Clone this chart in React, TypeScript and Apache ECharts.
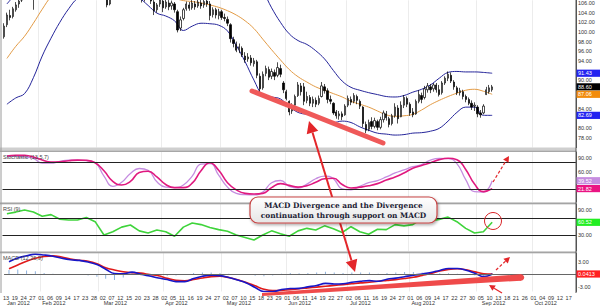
import React, { useEffect, useRef } from "react";
import * as echarts from "echarts";

// ---------- calendar ----------
const FIRST_DAY = "2012-01-13";
const LAST_DAY = "2012-10-19";
const MARKET_HOLIDAYS = ["2012-01-16", "2012-02-20", "2012-04-06", "2012-05-28", "2012-07-04", "2012-09-03"];
const MONTH_NAMES = ["Jan", "Feb", "Mar", "Apr", "May", "Jun", "Jul", "Aug", "Sep", "Oct", "Nov", "Dec"];

// ---------- price candles: [open, close, low, high] ----------
const candles: number[][] = [
  [99.0, 101.2, 98.6, 101.8], [101.5, 103.5, 101.0, 104.0], [103.4, 103.0, 102.4, 104.6], [103.2, 104.8, 102.8, 105.2], [104.6, 105.6, 104.2, 106.2],
  [105.8, 106.4, 105.0, 107.0], [106.6, 107.8, 106.2, 108.5], [107.8, 108.6, 107.2, 109.0], [108.6, 109.2, 108.0, 109.8], [109.0, 108.4, 107.6, 109.5],
  [108.2, 107.4, 104.6, 108.6], [107.6, 108.8, 107.0, 109.2], [108.8, 109.6, 108.2, 110.0], [109.6, 110.4, 109.0, 110.9], [110.4, 110.0, 109.4, 111.0],
  [110.0, 111.0, 109.6, 111.4], [111.0, 111.6, 110.4, 112.0], [111.6, 111.2, 110.6, 112.2], [111.2, 110.6, 110.0, 111.8], [110.6, 111.4, 110.0, 111.8],
  [111.4, 112.0, 110.8, 112.6], [112.0, 111.6, 111.0, 112.4], [111.6, 112.4, 111.2, 112.8], [112.4, 112.9, 111.8, 113.4], [112.9, 112.4, 111.8, 113.2],
  [112.4, 111.8, 111.2, 112.8], [111.8, 112.2, 111.2, 112.6], [112.2, 111.4, 110.8, 112.6], [111.4, 111.8, 110.8, 112.2], [111.8, 111.0, 110.4, 112.0],
  [111.0, 110.4, 109.8, 111.4], [110.4, 109.6, 109.0, 110.8], [109.6, 108.8, 108.2, 110.0], [108.8, 108.0, 107.4, 109.2], [108.0, 107.4, 106.8, 108.4],
  [107.4, 105.6, 105.1, 107.8], [105.8, 107.2, 105.5, 107.6], [107.2, 108.2, 106.8, 108.6], [108.2, 108.8, 107.8, 109.4], [108.8, 109.6, 108.4, 110.0],
  [109.6, 110.4, 109.2, 110.8], [110.4, 110.0, 109.4, 110.8], [110.0, 110.8, 109.6, 111.2], [110.8, 111.4, 110.4, 111.8], [111.4, 110.8, 110.2, 111.8],
  [110.8, 109.6, 109.0, 111.0], [109.6, 108.4, 107.8, 109.8], [108.0, 107.0, 106.1, 108.4], [107.0, 106.8, 106.3, 107.9], [107.0, 107.8, 106.6, 108.3],
  [107.6, 106.4, 105.8, 107.9], [106.2, 104.4, 103.5, 106.6], [104.6, 105.6, 104.0, 106.0], [105.8, 106.6, 105.2, 107.2], [106.4, 105.0, 104.1, 106.8],
  [105.2, 106.2, 104.8, 106.9], [106.0, 105.2, 104.5, 106.6], [105.4, 106.0, 104.6, 106.5], [105.8, 104.6, 104.0, 106.2], [104.2, 100.4, 99.9, 104.6],
  [100.8, 102.5, 100.2, 103.2], [102.8, 104.6, 102.4, 105.0], [104.8, 105.8, 104.4, 106.3], [105.6, 104.9, 104.4, 106.2], [105.0, 106.0, 104.6, 106.6],
  [105.8, 105.2, 104.6, 106.4], [105.4, 106.2, 105.0, 106.8], [106.0, 105.4, 104.8, 106.6], [105.6, 106.3, 105.0, 107.0], [106.4, 105.8, 105.2, 107.2],
  [105.8, 103.4, 102.4, 106.4], [103.6, 104.6, 103.0, 105.1], [104.6, 103.5, 102.8, 105.0], [103.4, 104.2, 102.6, 104.8], [104.2, 103.0, 102.5, 104.6],
  [103.0, 102.8, 102.2, 103.8], [102.6, 101.8, 101.2, 103.2], [101.5, 98.6, 97.8, 101.8], [98.4, 97.6, 96.8, 99.0], [97.4, 96.2, 95.8, 98.0],
  [96.4, 96.9, 95.6, 97.6], [96.6, 95.2, 94.8, 97.0], [95.0, 94.2, 93.6, 95.8], [94.4, 94.8, 93.8, 95.6], [94.6, 93.6, 93.0, 95.2],
  [93.4, 94.0, 92.8, 94.6], [93.8, 91.0, 90.4, 94.2], [90.8, 88.2, 87.4, 91.4], [88.4, 91.2, 88.0, 91.8], [91.4, 92.4, 90.8, 93.0],
  [92.2, 90.6, 90.0, 92.8], [90.8, 91.8, 90.2, 92.4], [91.6, 90.8, 90.0, 92.2], [91.0, 92.6, 90.6, 93.7], [92.4, 91.2, 90.6, 93.2],
  [89.4, 88.0, 87.3, 89.8], [87.6, 86.2, 85.8, 88.0], [85.6, 83.4, 82.7, 85.8], [83.6, 84.6, 83.0, 85.2], [84.8, 86.6, 84.4, 87.0],
  [86.8, 89.0, 86.5, 89.6], [88.8, 87.6, 86.8, 89.4], [88.6, 85.6, 84.8, 89.4], [85.8, 86.6, 85.2, 87.6], [86.4, 85.2, 84.6, 86.9],
  [85.2, 86.0, 84.4, 86.6], [85.8, 85.0, 84.4, 86.4], [85.2, 86.2, 84.8, 86.8], [86.6, 88.8, 86.4, 89.6], [88.6, 87.8, 87.2, 89.2],
  [87.8, 86.0, 85.2, 88.3], [86.0, 85.6, 85.0, 86.8], [85.2, 83.2, 82.8, 85.4], [83.4, 82.6, 82.0, 83.8], [82.6, 83.0, 81.8, 83.6],
  [83.0, 82.4, 81.7, 83.5], [82.8, 84.6, 82.6, 85.0], [84.8, 86.2, 84.4, 86.8], [86.0, 85.4, 84.8, 86.6], [85.6, 86.8, 85.2, 87.3],
  [86.6, 85.8, 85.0, 87.0], [85.6, 84.6, 84.0, 86.0], [84.4, 81.0, 80.2, 84.6], [80.8, 79.6, 79.0, 81.4], [79.8, 81.2, 79.4, 81.8],
  [81.4, 80.4, 79.8, 82.3], [80.4, 81.6, 80.0, 82.2], [81.4, 80.2, 79.6, 81.8], [80.2, 81.8, 79.8, 82.4], [81.8, 83.2, 81.2, 83.7],
  [83.0, 82.2, 81.6, 83.6], [82.0, 80.8, 80.2, 82.4], [81.0, 82.6, 80.6, 83.0], [82.6, 84.4, 82.2, 85.2], [84.2, 82.0, 81.0, 84.8],
  [82.4, 84.8, 82.3, 85.6], [84.8, 86.4, 84.2, 86.9], [86.2, 85.0, 84.4, 86.6], [85.0, 83.2, 82.6, 85.4], [83.4, 82.8, 82.3, 84.2],
  [83.0, 85.6, 82.8, 86.0], [85.6, 87.0, 85.2, 87.9], [86.8, 86.0, 85.2, 87.4], [86.4, 88.2, 86.0, 88.8], [88.0, 88.8, 87.4, 89.4],
  [88.6, 88.0, 87.3, 89.2], [88.2, 89.0, 87.6, 89.4], [89.0, 88.0, 87.4, 89.4], [88.0, 87.0, 86.6, 89.0], [87.4, 89.4, 87.0, 89.8],
  [89.4, 90.4, 89.0, 90.8], [90.4, 91.2, 89.8, 91.8], [91.0, 89.8, 89.4, 91.6], [89.6, 88.6, 88.0, 90.0], [88.4, 87.4, 86.9, 88.8],
  [87.4, 87.8, 86.8, 88.4], [87.6, 86.6, 86.0, 88.0], [86.6, 86.0, 85.4, 87.0], [86.0, 85.2, 84.8, 86.4], [85.2, 84.4, 83.8, 85.8],
  [84.6, 84.8, 83.6, 85.4], [84.4, 83.0, 82.3, 84.8], [83.2, 82.8, 82.2, 83.8], [83.2, 84.6, 82.9, 85.0], [87.0, 88.0, 86.9, 88.6],
  [87.6, 88.4, 87.2, 89.0], [88.0, 88.6, 87.6, 89.0],
];

// ---------- indicator readings, one every 3rd trading day starting at day #1 ----------
const SAMPLE_FIRST = 1;
const SAMPLE_STEP = 3;
const bandUpper = [105.8, 108.0, 110.5, 112.5, 113.5, 114.0, 114.2, 114.3, 114.2, 114.0, 113.8, 113.5, 113.2, 113.0, 112.8, 112.6, 112.3, 112.0, 111.6, 111.2, 110.8, 110.6, 110.4, 110.3, 110.3, 110.4, 110.6, 110.8, 110.6, 108.5, 105.0, 102.0, 99.6, 98.2, 97.4, 96.1, 94.4, 92.0, 89.8, 88.5, 87.9, 87.4, 87.0, 86.6, 86.5, 86.8, 87.5, 88.1, 89.0, 90.4, 91.6, 91.8, 91.7, 91.7, 91.6, 91.43];
const bandMiddle = [94.5, 97.0, 99.1, 101.8, 104.7, 107.3, 108.8, 109.8, 110.3, 110.5, 110.5, 110.3, 110.0, 109.7, 109.5, 109.2, 108.8, 108.2, 107.6, 107.0, 106.5, 106.3, 106.0, 105.6, 105.1, 104.4, 103.5, 102.3, 100.7, 98.5, 96.3, 94.2, 92.2, 90.7, 89.6, 88.6, 87.9, 87.2, 86.5, 85.6, 85.0, 84.4, 83.6, 82.8, 82.5, 82.6, 82.9, 83.8, 84.9, 85.8, 86.6, 87.3, 87.9, 88.1, 87.7, 87.06];
const bandLower = [85.0, 86.3, 87.2, 90.5, 95.0, 98.7, 102.0, 104.8, 107.0, 108.0, 108.5, 108.7, 108.5, 108.2, 107.8, 107.0, 105.5, 103.9, 103.3, 102.3, 100.3, 101.2, 101.8, 101.7, 101.4, 100.2, 97.2, 93.8, 90.0, 86.9, 86.5, 86.1, 84.5, 83.3, 82.9, 82.7, 82.0, 81.2, 81.5, 81.2, 80.3, 79.6, 79.0, 78.8, 78.6, 78.7, 79.0, 79.1, 79.4, 80.0, 81.5, 83.3, 84.4, 84.4, 82.7, 82.69];
const stochK = [93, 95, 93, 90, 79, 79, 83, 86, 86, 85, 80, 50, 27, 36, 56, 67, 63, 37, 25, 24, 30, 50, 77, 78, 52, 25, 11, 8, 7.5, 14, 35, 40, 27, 23, 32, 44, 50, 44, 21, 19, 27, 35, 40, 48, 57, 64, 71, 76, 86, 90, 89.5, 78, 42, 15, 14, 39.52];
const stochD = [95, 97, 96.5, 93, 86, 81.5, 82, 84.5, 86, 85.5, 80, 62, 38, 30, 38, 58, 61, 48, 31, 24, 24, 34, 62, 80, 63, 35, 19, 11, 9.5, 11, 24, 33, 29, 25, 28, 36, 44, 45, 31, 23, 25, 28, 33, 41, 48, 57, 67.5, 74, 80, 87, 90, 87, 65, 32, 15, 21.82];
const rsi9 = [81, 85, 90, 85, 75, 79, 68, 66, 66, 72, 62, 30, 38, 49, 54, 40, 35, 42, 38, 27, 49, 59, 55, 48, 43, 39, 30, 24, 18, 30, 40, 33, 27, 40, 46, 42, 52, 45, 36, 50, 38, 32, 44, 43, 55, 52, 55, 69, 64, 67.5, 73, 62, 46, 35, 38, 60.52];
const macdLine = [3.0, 3.9, 4.4, 4.8, 4.6, 4.3, 3.8, 3.45, 3.3, 2.9, 2.3, 1.2, 0.15, 0.1, 0.5, 0.0, -0.45, -0.9, -1.3, -1.8, -1.8, -1.05, -0.5, -0.25, -0.35, -0.8, -1.4, -2.1, -3.2, -4.2, -4.2, -3.7, -3.45, -3.4, -3.05, -2.7, -2.2, -2.35, -2.3, -1.95, -1.7, -1.55, -1.7, -1.2, -0.95, -0.6, -0.25, 0.05, 0.4, 0.9, 1.35, 1.35, 0.95, 0.2, -0.6, 0.0413];
const macdSignal = [1.3, 2.2, 3.1, 3.8, 4.25, 4.4, 4.1, 3.65, 3.35, 3.1, 2.5, 1.55, 1.0, 0.6, 0.35, 0.25, -0.1, -0.4, -1.0, -1.5, -1.6, -1.3, -0.9, -0.6, -0.5, -0.8, -1.35, -2.0, -2.8, -3.6, -3.95, -3.9, -3.75, -3.5, -3.3, -3.1, -2.9, -2.7, -2.5, -2.3, -2.1, -1.95, -1.7, -1.5, -1.3, -1.05, -0.75, -0.3, 0.15, 0.75, 1.15, 1.3, 1.05, 0.55, 0.1, 0.0];
const macdHist = [1.0, 1.1, 0.9, 0.7, 0.3, 0.1, -0.2, -0.2, -0.1, -0.3, -0.6, -1.1, -1.4, -0.8, 0.3, -0.3, -0.4, -0.5, -0.4, -0.3, -0.2, 0.3, 0.4, 0.4, 0.3, 0.1, -0.1, -0.2, -0.4, -0.5, -0.3, 0.1, 0.3, 0.2, 0.3, 0.4, 0.6, 0.4, 0.3, 0.4, 0.4, 0.4, 0.1, 0.3, 0.4, 0.5, 0.5, 0.4, 0.3, 0.2, 0.2, 0.1, -0.1, -0.3, -0.6, 0.0];

// ---------- axes ----------
const priceTicks = [78, 80, 82, 84, 86, 88, 90, 92, 94, 96, 98, 100, 102, 104, 106];
const oscTicks = [30, 60, 90];
const macdTicks = [-3, 0, 3];
const stochLevels = [80, 20];
const rsiLevels = [70, 30];
const panelTitles = ["Stochastic (13,5,7)", "RSI (9)", "MACD (12,26,9)"];
const calloutLines = ["MACD Divergence and the Divergence", "continuation through support on MACD"];

function buildDays(): string[] {
  const out: string[] = [];
  const d = new Date(FIRST_DAY + "T00:00:00Z");
  const end = new Date(LAST_DAY + "T00:00:00Z");
  while (d.getTime() <= end.getTime()) {
    const wd = d.getUTCDay();
    const iso = d.toISOString().slice(0, 10);
    if (wd !== 0 && wd !== 6 && MARKET_HOLIDAYS.indexOf(iso) < 0) out.push(iso);
    d.setUTCDate(d.getUTCDate() + 1);
  }
  return out;
}

const RED = "#e3262a";

function head(tx: number, ty: number, fx: number, fy: number, len: number, half: number) {
  const dx = tx - fx, dy = ty - fy;
  const L = Math.hypot(dx, dy);
  const ux = dx / L, uy = dy / L;
  const bx = tx - ux * len, by = ty - uy * len;
  return { points: [[tx, ty], [bx - uy * half, by + ux * half], [bx + uy * half, by - ux * half]], bx, by };
}

export default function App() {
  const ref = useRef<HTMLDivElement>(null);
  useEffect(() => {
    const el = ref.current!;
    const chart = echarts.init(el, undefined, { renderer: "svg" });
    const days = buildDays();
    const sampled = (arr: number[]) => arr.map((v, k) => [days[SAMPLE_FIRST + SAMPLE_STEP * k], v]);
    const monthStart = new Set<number>();
    const monthLabel = new Set<number>();
    days.forEach((d, i) => {
      if (i > 0 && d.slice(5, 7) !== days[i - 1].slice(5, 7)) monthStart.add(i);
    });
    let lastMonth = "";
    days.forEach((d, i) => {
      if (i % 3 === 0 && d.slice(5, 7) !== lastMonth) { monthLabel.add(i); lastMonth = d.slice(5, 7); }
    });

    const gridL = 2.5, gridR = 24;
    const grids = [
      { left: gridL, right: gridR, top: 0, height: 147.6 },
      { left: gridL, right: gridR, top: 152, height: 50 },
      { left: gridL, right: gridR, top: 204, height: 47 },
      { left: gridL, right: gridR, top: 253, height: 40 },
    ];
    const lab = { fontSize: 5.5, color: "#333", fontFamily: "Liberation Sans" };
    const hiddenX = (g: number) => ({
      type: "category", gridIndex: g, data: days, boundaryGap: true,
      axisLine: { show: false }, axisTick: { show: false }, axisLabel: { show: false },
      splitLine: { show: true, interval: (i: number) => monthStart.has(i), lineStyle: { color: "#ececec", width: 1 } },
    });
    const yAx = (g: number, min: number, max: number, ticks: number[], fmt: (v: number) => string) => ({
      type: "value", gridIndex: g, position: "right", min, max,
      axisLine: { show: true, lineStyle: { color: "#555", width: 1 } },
      axisTick: { show: false }, splitLine: { show: false },
      axisLabel: { ...lab, margin: 2, customValues: ticks, formatter: fmt, showMinLabel: true, showMaxLabel: true },
    });
    const f2 = (v: number) => v.toFixed(2);
    const lineS = (name: string, x: number, data: any[], color: string, width: number, smooth: number | boolean, extra: any = {}) => ({
      type: "line", name, xAxisIndex: x, yAxisIndex: x, data, showSymbol: false, symbol: "none",
      smooth, lineStyle: { color, width }, itemStyle: { color }, clip: true, silent: true, z: 3, ...extra,
    });
    const levelLines = (vals: number[], color: string) => ({
      silent: true, symbol: ["none", "none"], label: { show: false },
      lineStyle: { color, width: 1, type: "solid" },
      data: vals.map((v) => ({ yAxis: v })),
    });
    const axisTicks = [priceTicks, oscTicks, oscTicks, macdTicks];

    const option: any = {
      animation: false,
      backgroundColor: "#ffffff",
      grid: grids,
      xAxis: [
        hiddenX(0), hiddenX(1), hiddenX(2),
        {
          ...hiddenX(3),
          axisLine: { show: true, lineStyle: { color: "#555", width: 1 } },
          axisLabel: { ...lab, show: true, margin: 3, interval: (i: number) => i % 3 === 0, formatter: (v: string) => v.slice(8, 10) },
        },
        {
          type: "category", gridIndex: 3, data: days, boundaryGap: true, position: "bottom",
          axisLine: { show: false }, axisTick: { show: false }, splitLine: { show: false },
          axisLabel: {
            ...lab, show: true, margin: 8.5, align: "left", padding: [0, 0, 0, 1],
            interval: (i: number) => monthLabel.has(i),
            formatter: (v: string) => MONTH_NAMES[+v.slice(5, 7) - 1] + " " + v.slice(0, 4),
          },
        },
      ],
      yAxis: [
        yAx(0, 76, 106.56, priceTicks, f2),
        yAx(1, -8.4, 104.2, oscTicks, f2),
        yAx(2, -8.3, 104.4, oscTicks, f2),
        yAx(3, -4.16, 5.08, macdTicks, f2),
      ],
      series: [
        lineS("Upper", 0, sampled(bandUpper), "#25259a", 1, 0.4),
        lineS("Middle", 0, sampled(bandMiddle), "#e39b45", 1, 0.4),
        lineS("Lower", 0, sampled(bandLower), "#25259a", 1, 0.4),
        {
          type: "candlestick", xAxisIndex: 0, yAxisIndex: 0, data: candles, barWidth: 1.8, clip: true, silent: true, z: 4,
          itemStyle: { color: "#ffffff", color0: "#000000", borderColor: "#000000", borderColor0: "#000000", borderWidth: 0.7 },
        },
        lineS("%K", 1, sampled(stochK), "#c58de0", 1.3, 0.5, { markLine: levelLines(stochLevels, "#222") }),
        lineS("%D", 1, sampled(stochD), "#e0197f", 1.6, 0.5),
        lineS("RSI", 2, sampled(rsi9), "#3fd43b", 1.6, false, { markLine: levelLines(rsiLevels, "#222") }),
        {
          type: "bar", xAxisIndex: 3, yAxisIndex: 3, data: sampled(macdHist), barWidth: 1, silent: true,
          itemStyle: { color: "#8fb2dd" }, z: 2,
        },
        lineS("Signal", 3, sampled(macdSignal), "#e01a1a", 1.6, 0.4, { markLine: levelLines([0], "#666") }),
        lineS("MACD", 3, sampled(macdLine), "#1717c8", 1.6, 0.4),
      ],
    };
    chart.setOption(option);

    const lastClose = candles[candles.length - 1][1];
    const last = (a: number[]) => a[a.length - 1];
    const boxes = [
      { axis: 0, v: last(bandUpper), bg: "#2323f0", fg: "#ffffff", dec: 2 },
      { axis: 0, v: lastClose, bg: "#000000", fg: "#ffffff", dec: 2 },
      { axis: 0, v: last(bandMiddle), bg: "#f28c0c", fg: "#ffffff", dec: 2 },
      { axis: 0, v: last(bandLower), bg: "#2323f0", fg: "#ffffff", dec: 2 },
      { axis: 1, v: last(stochK), bg: "#c58de0", fg: "#ffffff", dec: 2 },
      { axis: 1, v: last(stochD), bg: "#ea1483", fg: "#ffffff", dec: 2 },
      { axis: 2, v: last(rsi9), bg: "#22ee22", fg: "#ffffff", dec: 2 },
      { axis: 3, v: last(macdLine), bg: "#ff2020", fg: "#ffffff", dec: 4 },
    ];
    const boxY = boxes.map((b) => chart.convertToPixel({ yAxisIndex: b.axis } as any, b.v) as number);
    // tick labels hidden behind the value boxes (as in the reference) are left out
    const visibleTicks = axisTicks.map((ticks, a) =>
      ticks.filter((t) => {
        const ty = chart.convertToPixel({ yAxisIndex: a } as any, t) as number;
        return !boxes.some((b, j) => b.axis === a && Math.abs(boxY[j] - ty) < 5.6);
      })
    );

    const g: any[] = [];
    // panel separators
    [[147.6, 4.2], [202, 2.2], [251, 2.2]].forEach(([y, h]) => {
      g.push({ type: "rect", shape: { x: 0, y, width: 576, height: h }, style: { fill: "#cfcfcf" }, z: 50 });
      g.push({ type: "line", shape: { x1: 0, y1: y + h - 0.5, x2: 576, y2: y + h - 0.5 }, style: { stroke: "#9a9a9a", lineWidth: 1 }, z: 51 });
    });
    g.push({ type: "line", shape: { x1: 1, y1: 0, x2: 1, y2: 293 }, style: { stroke: "#9a9a9a", lineWidth: 1 }, z: 51 });
    g.push({ type: "line", shape: { x1: 576, y1: 0, x2: 576, y2: 293 }, style: { stroke: "#555", lineWidth: 1 }, z: 52 });
    // panel titles
    [153.5, 205.5, 254.5].forEach((y, i) => {
      g.push({ type: "text", style: { text: panelTitles[i], x: 3, y, fill: "#444", fontSize: 5.5, fontFamily: "Liberation Sans", align: "left", verticalAlign: "top" }, z: 53 });
    });
    // last value boxes
    boxes.forEach((b, j) => {
      const y = boxY[j];
      g.push({ type: "rect", shape: { x: 576.5, y: y - 3.6, width: 23.5, height: 7.2 }, style: { fill: b.bg }, z: 60 });
      g.push({ type: "text", style: { text: b.v.toFixed(b.dec), x: 578, y, fill: b.fg, fontSize: 5.5, fontFamily: "Liberation Sans", align: "left", verticalAlign: "middle" }, z: 61 });
    });
    // price trend line
    g.push({ type: "line", shape: { x1: 252, y1: 91, x2: 383, y2: 143 }, style: { stroke: "#ef5959", lineWidth: 5, lineCap: "round" }, z: 70 });
    // MACD wedge
    g.push({ type: "polygon", shape: { points: [[262, 293], [521, 274.3], [521, 280.7], [262, 296]] }, style: { fill: "#ef4a4a" }, z: 70 });
    g.push({ type: "circle", shape: { cx: 521, cy: 277.5, r: 3.2 }, style: { fill: "#ef4a4a" }, z: 70 });
    // main double arrow
    const A = [309, 121], B = [355, 272];
    const h1 = head(A[0], A[1], B[0], B[1], 12, 6);
    const h2 = head(B[0], B[1], A[0], A[1], 12, 6);
    g.push({ type: "line", shape: { x1: h1.bx, y1: h1.by, x2: h2.bx, y2: h2.by }, style: { stroke: RED, lineWidth: 2 }, z: 71 });
    g.push({ type: "polygon", shape: { points: h1.points }, style: { fill: RED }, z: 71 });
    g.push({ type: "polygon", shape: { points: h2.points }, style: { fill: RED }, z: 71 });
    // small arrows
    const small = (fx: number, fy: number, tx: number, ty: number, dash: boolean) => {
      const h = head(tx, ty, fx, fy, 6, 3.2);
      g.push({ type: "line", shape: { x1: fx, y1: fy, x2: h.bx, y2: h.by }, style: { stroke: RED, lineWidth: 1.2, lineDash: dash ? [3, 2] : null }, z: 71 });
      g.push({ type: "polygon", shape: { points: h.points }, style: { fill: RED }, z: 71 });
    };
    small(493, 182, 509, 156, true);
    small(496, 270, 510, 257, true);
    small(502, 293, 489, 285, false);
    // RSI circle
    g.push({ type: "circle", shape: { cx: 493, cy: 221, r: 8.5 }, style: { fill: "none", stroke: "#d9262a", lineWidth: 1 }, z: 71 });
    // callout
    g.push({
      type: "rect", shape: { x: 250, y: 197, width: 187, height: 26, r: 8 },
      style: {
        fill: new echarts.graphic.LinearGradient(0, 0, 0, 1, [{ offset: 0, color: "#ffffff" }, { offset: 1, color: "#e6e6e6" }]),
        stroke: "#c64444", lineWidth: 1.2, shadowBlur: 3, shadowColor: "rgba(0,0,0,0.35)", shadowOffsetX: 1, shadowOffsetY: 1.5,
      }, z: 80,
    });
    calloutLines.forEach((t, i) => {
      g.push({ type: "text", style: { text: t, x: 343.5, y: 205 + i * 10.5, fill: "#1b1b33", fontSize: 7.4, fontWeight: "bold", fontFamily: "DejaVu Serif", align: "center", verticalAlign: "middle" }, z: 81 });
    });
    chart.setOption({
      yAxis: visibleTicks.map((t) => ({ axisLabel: { customValues: t } })),
      graphic: g,
    });
    return () => chart.dispose();
  }, []);
  return <div ref={ref} style={{ position: "fixed", left: 0, top: 0, width: 600, height: 306 }} />;
}
